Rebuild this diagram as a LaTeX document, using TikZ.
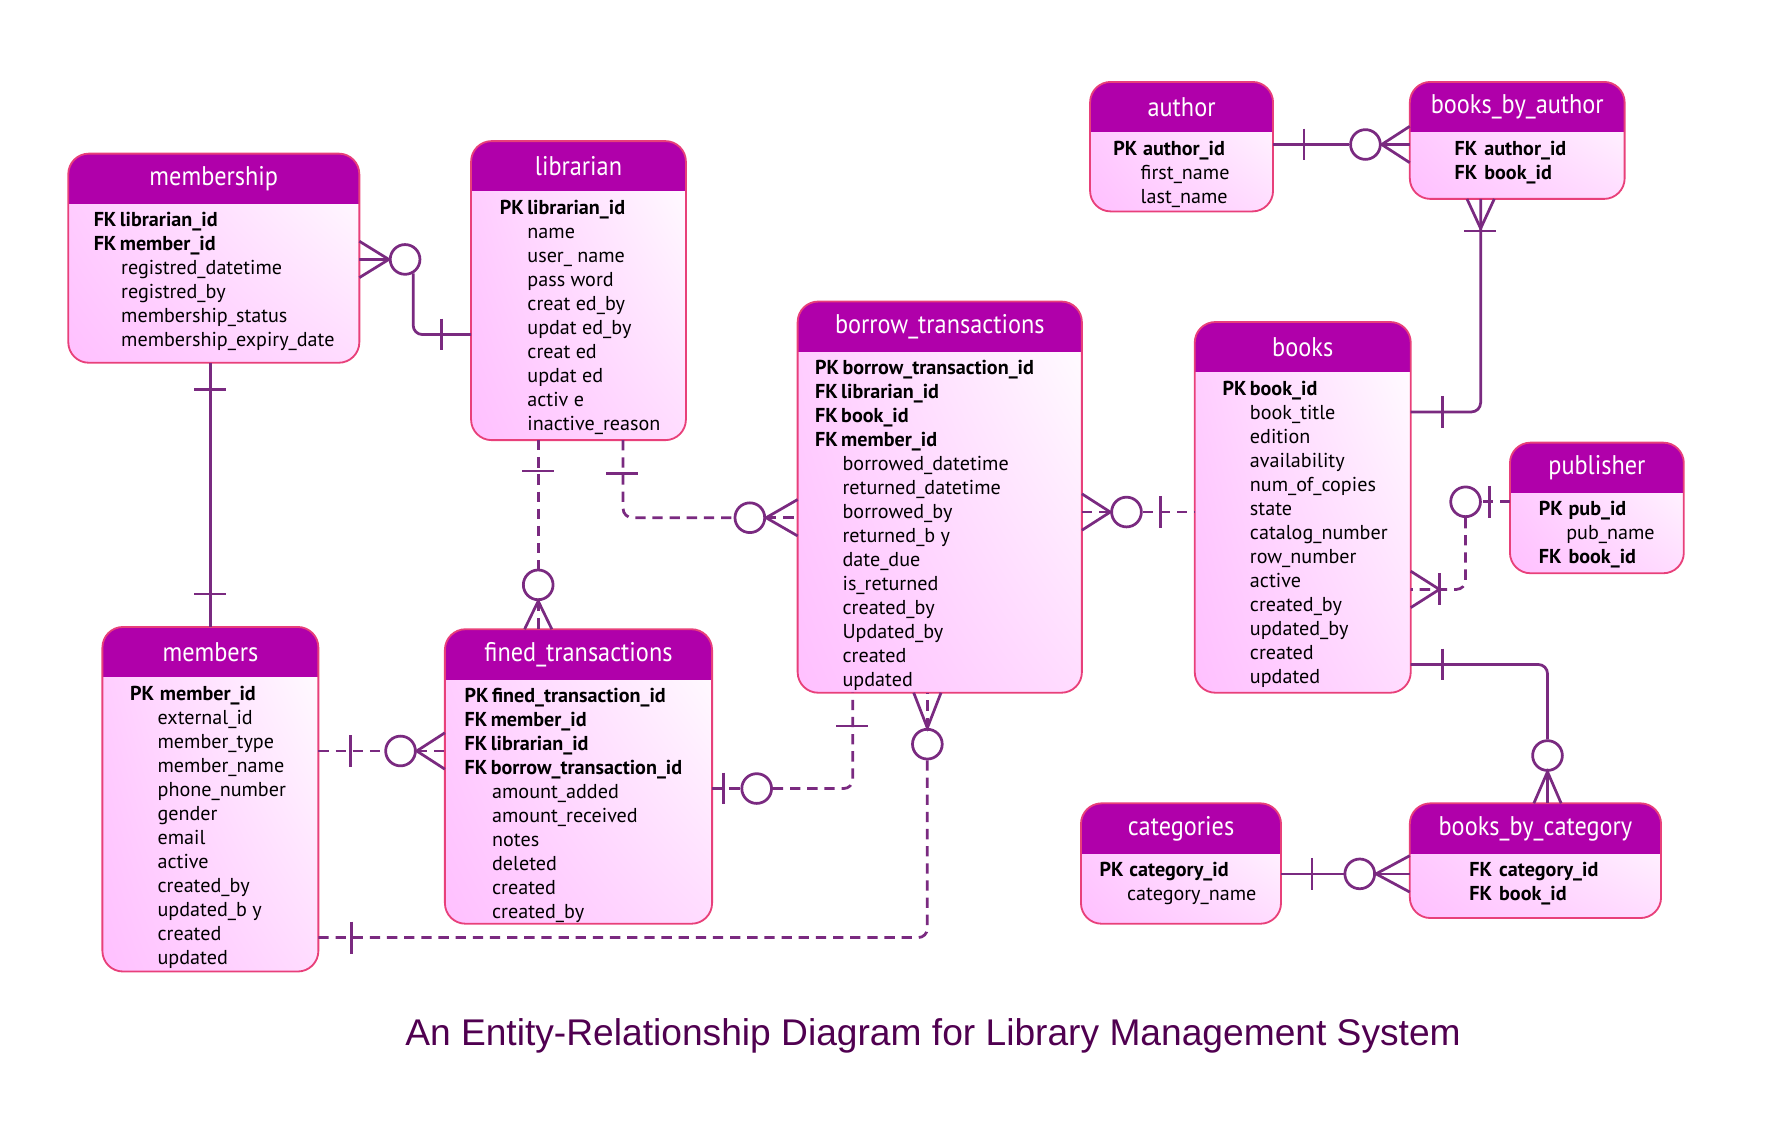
\documentclass[tikz,border=0pt]{standalone}
\usepackage{fontspec}
\setmainfont{PT Sans}
\newfontfamily\hdrfont[FakeStretch=0.9]{PT Sans}
\newfontfamily\captionfont{Liberation Sans}
\usetikzlibrary{calc,shadings}

\definecolor{hdrc}{HTML}{B000AA}
\definecolor{bodyc}{HTML}{FFC0FF}
\definecolor{edgec}{HTML}{E8407A}
\definecolor{relc}{HTML}{7A2A80}
\definecolor{titlec}{HTML}{500050}

\def\ux{0.4975pt}

% field lines
\newcommand{\kf}[2]{\textbf{#1\,#2}}
\newcommand{\kw}[2]{\makebox[13pt][l]{\textbf{#1}}\textbf{#2}}
\newcommand{\attr}[1]{\hspace*{12pt}#1}

% entity: name, x1, y1, x2, y2, title, field indent, fields
\newcommand{\entity}[8]{%
  \node[tbl, minimum width=(#4-#2)*\ux, minimum height=(#5-#3)*\ux] (#1) at (#2,#3) {};
  \begin{scope}
    \clip[rounded corners=9pt] (#1.south west) rectangle (#1.north east);
    \fill[hdrc] (#1.north west) rectangle ([yshift=-22pt]#1.north east);
  \end{scope}
  \draw[tblline] (#1.south west) rectangle (#1.north east);
  \node[ttl] at ([yshift=-11pt]#1.north) {#6};
  \node[fld] at ([xshift=#7*\ux, yshift=-25.5pt]#1.north west) {#8};
}

% relation marks
\newcommand{\crowx}[2]{\draw[rel] ($(#1)+(0,-16)$) -- (#2) -- ($(#1)+(0,16)$);}
\newcommand{\crowy}[2]{\draw[rel] ($(#1)+(-12,0)$) -- (#2) -- ($(#1)+(12,0)$);}
\newcommand{\markv}[2]{\draw[rel] (#1,#2-14) -- (#1,#2+14);}
\newcommand{\markh}[2]{\draw[rel] (#1-14,#2) -- (#1+14,#2);}

\tikzset{
  tbl/.style={anchor=north west, inner sep=0pt, rounded corners=9pt,
    lower left=bodyc, upper left=bodyc!75!white, lower right=bodyc!55!white, upper right=white},
  tblline/.style={draw=edgec, line width=0.8pt, rounded corners=9pt},
  ttl/.style={text=white, font=\hdrfont\fontsize{11.8}{12}\selectfont},
  fld/.style={anchor=north west, inner sep=0pt, align=left, font=\fontsize{8.8}{10.5}\selectfont},
  rel/.style={draw=relc, line width=1.2pt},
  drel/.style={rel, dash pattern=on 4.5pt off 3pt},
  zc/.style={circle, draw=relc, line width=1.2pt, minimum size=13pt, inner sep=0pt}
}

\begin{document}
\begin{tikzpicture}[x=\ux, y=-\ux]
\useasboundingbox (0pt,0pt) rectangle (780pt,-500pt);

% tables
\entity{membership}{60}{135}{315}{318}{membership}{22}{%
  \kf{FK}{librarian\_id}\\ \kf{FK}{member\_id}\\ \attr{registred\_datetime}\\
  \attr{registred\_by}\\ \attr{membership\_status}\\ \attr{membership\_expiry\_date}}
\entity{librarian}{414}{124}{602}{386}{librarian}{25}{%
  \kf{PK}{librarian\_id}\\ \attr{name}\\ \attr{user\_ name}\\ \attr{pass word}\\
  \attr{creat ed\_by}\\ \attr{updat ed\_by}\\ \attr{creat ed}\\ \attr{updat ed}\\
  \attr{activ e}\\ \attr{inactive\_reason}}
\entity{author}{958}{72}{1118}{185}{author}{20}{%
  \kw{PK}{author\_id}\\ \attr{first\_name}\\ \attr{last\_name}}
\entity{bookauthor}{1239}{72}{1427}{174}{books\_by\_author}{39}{%
  \kw{FK}{author\_id}\\ \kw{FK}{book\_id}}
\entity{borrow}{701}{265}{950}{608}{borrow\_transactions}{15}{%
  \kf{PK}{borrow\_transaction\_id}\\ \kf{FK}{librarian\_id}\\ \kf{FK}{book\_id}\\
  \kf{FK}{member\_id}\\ \attr{borrowed\_datetime}\\ \attr{returned\_datetime}\\
  \attr{borrowed\_by}\\ \attr{returned\_b y}\\ \attr{date\_due}\\ \attr{is\_returned}\\
  \attr{created\_by}\\ \attr{Updated\_by}\\ \attr{created}\\ \attr{updated}}
\entity{books}{1050}{283}{1239}{608}{books}{24}{%
  \kf{PK}{book\_id}\\ \attr{book\_title}\\ \attr{edition}\\ \attr{availability}\\
  \attr{num\_of\_copies}\\ \attr{state}\\ \attr{catalog\_number}\\ \attr{row\_number}\\
  \attr{active}\\ \attr{created\_by}\\ \attr{updated\_by}\\ \attr{created}\\ \attr{updated}}
\entity{publisher}{1327}{389}{1479}{503}{publisher}{25}{%
  \kw{PK}{pub\_id}\\ \attr{pub\_name}\\ \kw{FK}{book\_id}}
\entity{members}{90}{551}{279}{853}{members}{24}{%
  \kw{PK}{member\_id}\\ \attr{external\_id}\\ \attr{member\_type}\\ \attr{member\_name}\\
  \attr{phone\_number}\\ \attr{gender}\\ \attr{email}\\ \attr{active}\\ \attr{created\_by}\\
  \attr{updated\_b y}\\ \attr{created}\\ \attr{updated}}
\entity{fined}{391}{553}{625}{811}{fined\_transactions}{17}{%
  \kf{PK}{fined\_transaction\_id}\\ \kf{FK}{member\_id}\\ \kf{FK}{librarian\_id}\\
  \kf{FK}{borrow\_transaction\_id}\\ \attr{amount\_added}\\ \attr{amount\_received}\\
  \attr{notes}\\ \attr{deleted}\\ \attr{created}\\ \attr{created\_by}}
\entity{categories}{950}{706}{1125}{811}{categories}{16}{%
  \kw{PK}{category\_id}\\ \attr{category\_name}}
\entity{bookcat}{1239}{706}{1459}{806}{books\_by\_category}{52}{%
  \kw{FK}{category\_id}\\ \kw{FK}{book\_id}}

% optional ends
\node[zc] (c1) at (356,228) {};
\node[zc] (c2) at (473,514) {};
\node[zc] (c3) at (659,455) {};
\node[zc] (c4) at (990,450) {};
\node[zc] (c5) at (1200,127) {};
\node[zc] (c6) at (1288,441) {};
\node[zc] (c7) at (1360,664) {};
\node[zc] (c8) at (1195,768) {};
\node[zc] (c9) at (352,660) {};
\node[zc] (c10) at (665,693) {};
\node[zc] (c11) at (815,654) {};

% membership - librarian
\draw[rel] (membership.east |- c1) -- (c1);
\crowx{membership.east |- c1}{c1.west}
\draw[rel, rounded corners=4pt] (c1.-60) |- (librarian.west |- 0,294);
\markv{388}{294}

% membership - members
\draw[rel] (members.north |- membership.south) -- (members.north);
\markh{184.5}{342}
\markh{184.5}{522}

% librarian - fined
\draw[drel] (c2 |- librarian.south) -- (c2);
\draw[drel] (c2) -- (c2 |- fined.north);
\crowy{c2 |- fined.north}{c2.south}
\markh{473}{414}

% librarian - borrow
\draw[drel, rounded corners=4pt] ([xshift=19.5pt]librarian.south) |- (c3);
\draw[drel] (c3) -- (borrow.west |- c3);
\crowx{borrow.west |- c3}{c3.east}
\markh{547}{416}

% borrow - books
\draw[drel] (borrow.east |- c4) -- (c4) -- (books.west |- c4);
\crowx{borrow.east |- c4}{c4.west}
\markv{1020}{450}

% author - books_by_author
\draw[rel] (author.east |- c5) -- (c5) -- (bookauthor.west |- c5);
\crowx{bookauthor.west |- c5}{c5.east}
\markv{1146}{127}

% books_by_author - books
\coordinate (ba) at ([xshift=-16pt]bookauthor.south);
\draw[rel, rounded corners=4pt] (ba) |- (books.east |- 0,362);
\crowy{ba}{$(ba)+(0,26)$}
\markh{1301}{203}
\markv{1268}{362}

% books - publisher
\draw[drel] (publisher.west |- c6) -- (c6);
\draw[drel, rounded corners=4pt] (c6) |- (books.east |- 0,518);
\crowx{books.east |- 0,518}{1265,518}
\markv{1309}{441}
\markv{1265}{518}

% books - books_by_category
\draw[rel, rounded corners=4pt] (books.east |- 0,584) -| (c7);
\draw[rel] (c7) -- (c7 |- bookcat.north);
\crowy{c7 |- bookcat.north}{c7.south}
\markv{1268}{584}

% categories - books_by_category
\draw[rel] (categories.east |- c8) -- (c8) -- (bookcat.west |- c8);
\crowx{bookcat.west |- c8}{c8.east}
\markv{1153}{768}

% members - fined
\draw[drel] (members.east |- c9) -- (c9) -- (fined.west |- c9);
\crowx{fined.west |- c9}{c9.east}
\markv{308}{660}

% fined - borrow
\draw[drel] (fined.east |- c10) -- (c10);
\draw[drel, rounded corners=4pt] (c10) -| ([xshift=-38pt]borrow.south);
\markv{636}{693}
\markh{749}{638}

% members - borrow
\draw[drel, rounded corners=4pt] (members.east |- 0,824) -| (c11);
\draw[drel] (c11) -- (c11 |- borrow.south);
\crowy{c11 |- borrow.south}{c11.north}
\markv{309}{824}

% caption
\node[font=\captionfont\fontsize{16.25}{19}\selectfont, text=titlec] (caption) at (820,910)
  {An Entity-Relationship Diagram for Library Management System};
\end{tikzpicture}
\end{document}
